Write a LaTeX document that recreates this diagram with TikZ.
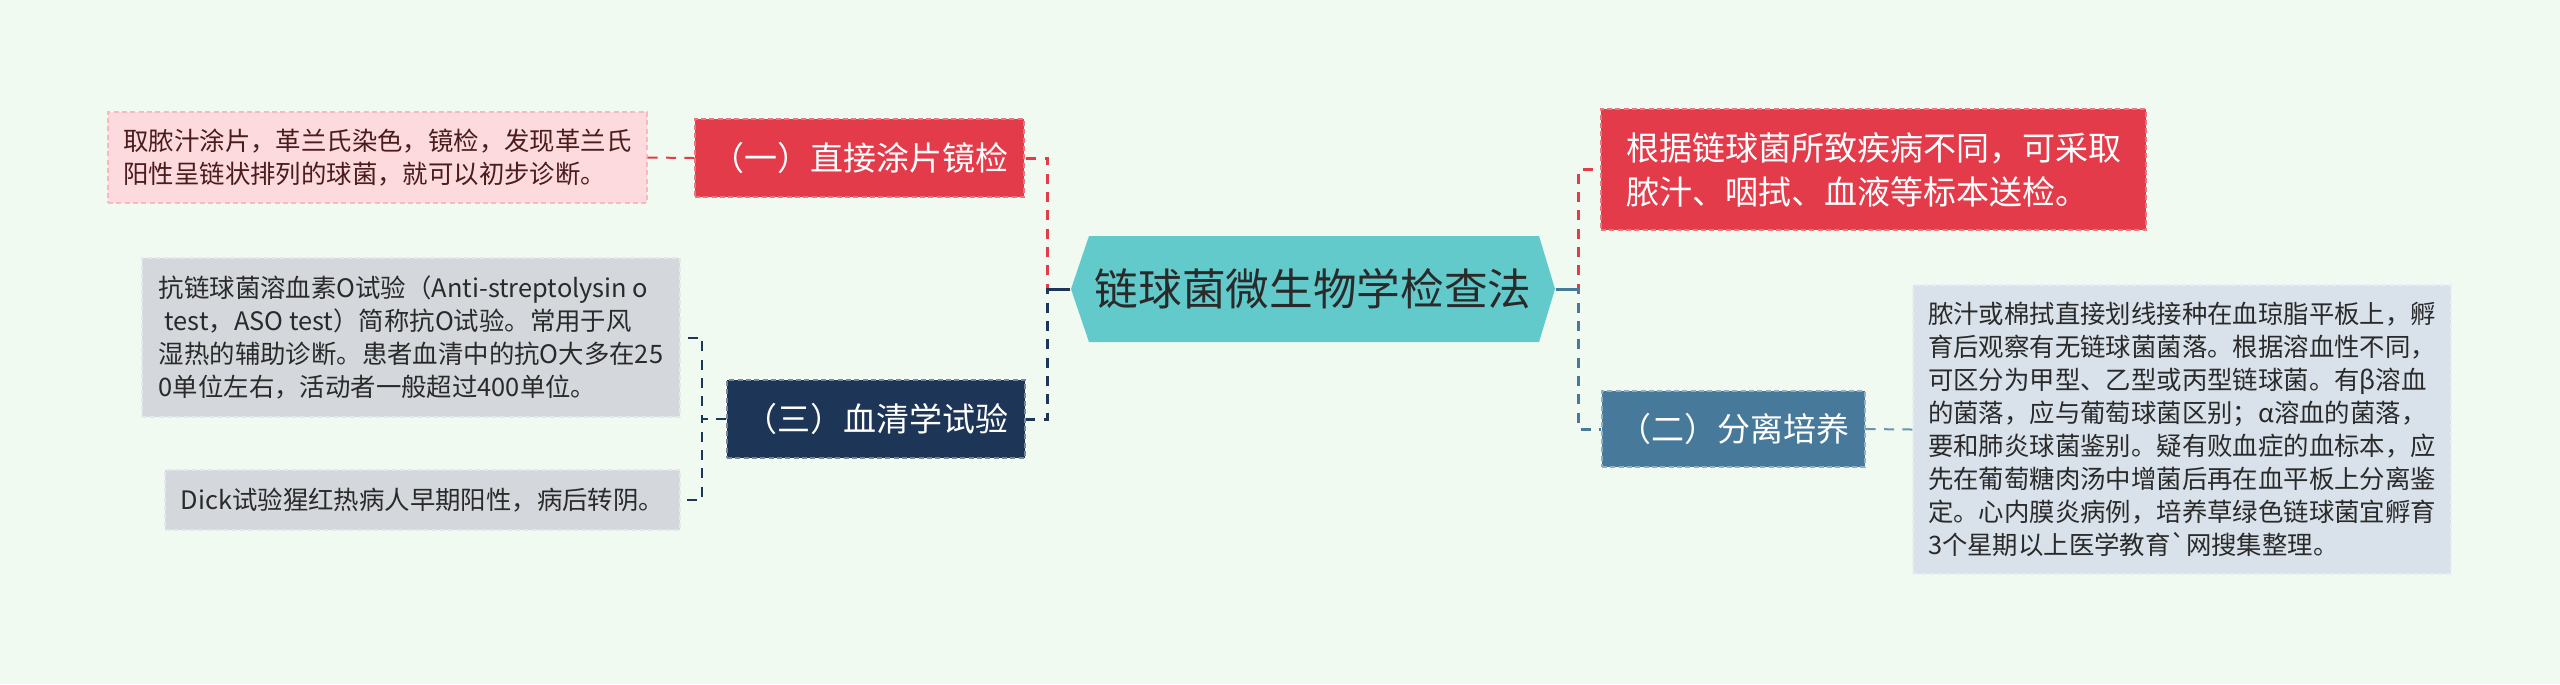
\documentclass[tikz,border=0pt]{standalone}
\usepackage{fontspec}
\setmainfont{Noto Sans CJK SC}
\newfontfamily\plainfont{Noto Sans CJK SC}
\usetikzlibrary{calc}
\definecolor{bg}{HTML}{F0FAF0}
\definecolor{pinkbox}{HTML}{FCDADE}
\definecolor{pinktext}{HTML}{4A1C1C}
\definecolor{redbox}{HTML}{E43B4A}
\definecolor{navybox}{HTML}{1D3557}
\definecolor{bluebox}{HTML}{47799B}
\definecolor{graybox}{HTML}{D4D8DD}
\definecolor{gbbox}{HTML}{D9E2EA}
\definecolor{tealbox}{HTML}{62CACB}
\definecolor{darktext}{HTML}{2A2A2A}
\begin{document}
\begin{tikzpicture}[x=0.3pt,y=-0.3pt,
  box/.style={inner sep=0pt, align=left, dashed, dash pattern=on 1.5pt off 1pt, line width=0.4pt},
  smalltext/.style={font=\fontsize{7.62}{9.9}\selectfont},
  midtext/.style={font=\fontsize{9.9}{13.2}\selectfont},
  conn/.style={line width=0.9pt, dash pattern=on 3pt off 2.5pt},
  thinconn/.style={line width=0.6pt, dash pattern=on 3pt off 2.5pt},
]
\useasboundingbox (0,0) rectangle (2560,684);
\fill[bg] (0,0) rectangle (2560,684);

% central hexagon
\fill[tealbox] (1071,289) -- (1089,236) -- (1539,236) -- (1555,289) -- (1539,342) -- (1089,342) -- cycle;
\node[inner sep=0pt, minimum width=145.2pt, minimum height=31.8pt, text=darktext,
      font=\fontsize{13.1}{15}\selectfont] (hex) at (1313,289) {链球菌微生物学检查法};

% left branch boxes
\node[box, fill=redbox, draw=redbox!70!white, text=white, midtext,
      minimum width=98.7pt, minimum height=23.4pt] (b1) at (859.5,158) {（一）直接涂片镜检};
\node[box, fill=pinkbox, draw=pinkbox!80!redbox, text=pinktext, smalltext,
      minimum width=161.7pt, minimum height=27.3pt] (p1) at (377.5,157.5)
      {取脓汁涂片，革兰氏染色，镜检，发现革兰氏\\阳性呈链状排列的球菌，就可以初步诊断。};
\node[box, fill=navybox, draw=navybox!60!white, text=white, midtext,
      minimum width=89.4pt, minimum height=23.4pt] (b3) at (876,419) {（三）血清学试验};
\node[box, fill=graybox, draw=graybox!60!white, text=darktext, smalltext,
      minimum width=161.4pt, minimum height=47.7pt] (g1) at (411,337.5)
      {抗链球菌溶血素O试验（Anti-streptolysin o\\\ test，ASO test）简称抗O试验。常用于风\\湿热的辅助诊断。患者血清中的抗O大多在25\\0单位左右，活动者一般超过400单位。};
\node[box, fill=graybox, draw=graybox!60!white, text=darktext, smalltext,
      minimum width=154.5pt, minimum height=18pt] (g2) at (422.5,500)
      {Dick试验猩红热病人早期阳性，病后转阴。};

% right branch boxes
\node[box, fill=redbox, draw=redbox!70!white, text=white, midtext,
      minimum width=163.5pt, minimum height=36.3pt] (r1) at (1873.5,169.5)
      {根据链球菌所致疾病不同，可采取\\脓汁、咽拭、血液等标本送检。};
\node[box, fill=bluebox, draw=bluebox!60!white, text=white, midtext,
      minimum width=78.9pt, minimum height=22.8pt] (b2) at (1733.5,429) {（二）分离培养};
\node[box, fill=gbbox, draw=gbbox!60!white, text=darktext, smalltext,
      minimum width=161.4pt, minimum height=86.7pt] (g3) at (2182,429.5)
      {脓汁或棉拭直接划线接种在血琼脂平板上，孵\\育后观察有无链球菌菌落。根据溶血性不同，\\可区分为甲型、乙型或丙型链球菌。有β溶血\\的菌落，应与葡萄球菌区别；α溶血的菌落，\\要和肺炎球菌鉴别。疑有败血症的血标本，应\\先在葡萄糖肉汤中增菌后再在血平板上分离鉴\\定。心内膜炎病例，培养草绿色链球菌宜孵育\\3个星期以上医学教育{\plainfont\symbol{96}}网搜集整理。};

% connectors left
\draw[conn, redbox] (hex.west) -- ++(-23,0) |- (b1.east);
\draw[conn, navybox] (hex.west) -- ++(-23,0) |- (b3.east);
\draw[line width=0.9pt, navybox] (hex.west) -- ++(-23,0);
\draw[thinconn, redbox] (b1.west) -- (p1.east);
\draw[thinconn, navybox] (b3.west) -- ++(-24,0) |- (g1.east);
\draw[thinconn, navybox] (b3.west) -- ++(-24,0) |- (g2.east);

% connectors right
\draw[conn, redbox] (hex.east) -- ++(23,0) |- (r1.west);
\draw[conn, bluebox] (hex.east) -- ++(23,0) |- (b2.west);
\draw[line width=0.9pt, bluebox] (hex.east) -- ++(23,0);
\draw[thinconn, bluebox!80!white] (b2.east) -- (g3.west);
\end{tikzpicture}
\end{document}
